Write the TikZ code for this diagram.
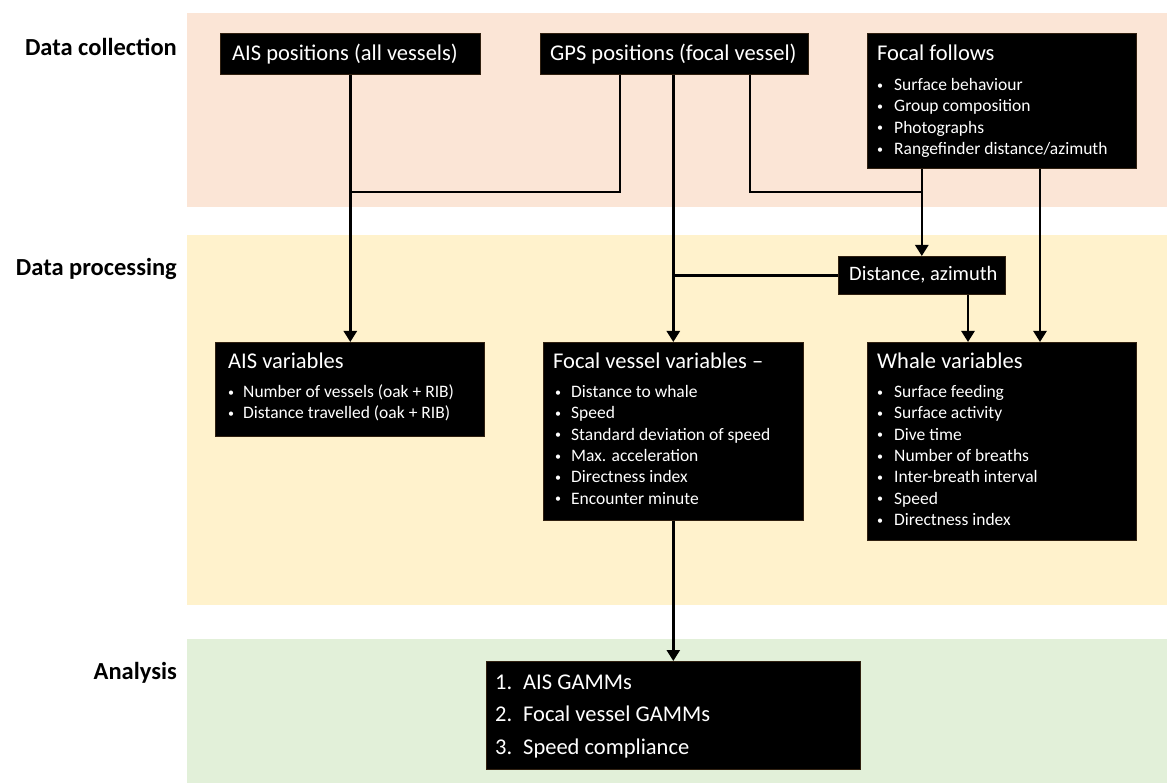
\documentclass[tikz,border=0pt]{standalone}
\usepackage{fontspec}
\setmainfont{Carlito}
\usetikzlibrary{arrows.meta,calc}
\definecolor{bandA}{HTML}{FBE5D6}
\definecolor{bandB}{HTML}{FFF2CC}
\definecolor{bandC}{HTML}{E2F0D9}
\newcommand\smbul[1]{\makebox[#1][l]{\raisebox{1.2pt}{\fontsize{12}{12}\selectfont•}}}
\begin{document}
\begin{tikzpicture}[x=1pt,y=-1pt,
 box/.style={fill=black,draw=black!75!brown,line width=0.6pt,inner sep=0pt,anchor=north west},
 head/.style={text=white,font=\fontsize{22.5}{27}\selectfont,anchor=base west,inner sep=0pt},
 item/.style={text=white,font=\fontsize{17.5}{21}\selectfont,anchor=base west,inner sep=0pt},
 lab/.style={font=\bfseries\fontsize{24.5}{29}\selectfont,anchor=base east,inner sep=0pt},
 ln/.style={line width=2.5pt,draw=black},
 arr/.style={ln,-{Triangle[width=13pt,length=11pt]}}]
\useasboundingbox (0,0) rectangle (1167,783);
% bands
\fill[bandA] (187,13) rectangle (1167,207);
\fill[bandB] (187,235) rectangle (1167,605);
\fill[bandC] (187,639) rectangle (1167,783);
% stage labels
\node[lab] (l1) at (177,56) {Data collection};
\node[lab] (l2) at (177,276) {Data processing};
\node[lab] (l3) at (177,679) {Analysis};
% boxes
\node[box,minimum width=260,minimum height=41] (aisp) at (220,33) {};
\node[box,minimum width=268,minimum height=41] (gps) at (540,33) {};
\node[box,minimum width=269,minimum height=135] (ff) at (867,33) {};
\node[box,minimum width=167,minimum height=38] (dist) at (838,256) {};
\node[box,minimum width=269,minimum height=94] (aisv) at (215,342) {};
\node[box,minimum width=260,minimum height=178] (fvv) at (543,342) {};
\node[box,minimum width=269,minimum height=198] (wv) at (867,342) {};
\node[box,minimum width=374,minimum height=108] (an) at (486,661) {};
% connectors
\coordinate (lvl) at (0,192);
\coordinate (g1) at ($(gps.south west)+(80,0)$);
\coordinate (g2) at (gps.south -| fvv.north);
\coordinate (g3) at ($(gps.south west)+(210,0)$);
\coordinate (j1) at (aisp.south |- lvl);
\coordinate (j2) at (dist.north |- lvl);
\coordinate (f2) at ($(ff.south west)+(173,0)$);
\coordinate (d2) at ($(dist.south west)+(130,0)$);
\draw[arr] (aisp.south) -- (aisp.south |- aisv.north);
\draw[ln] (g1) |- (j1);
\draw[arr] (g2) -- (fvv.north);
\draw[ln] (g3) |- (j2);
\draw[arr] (ff.south -| dist.north) -- (dist.north);
\draw[arr] (f2) -- (f2 |- wv.north);
\draw[ln] (dist.west) -- (dist.west -| fvv.north);
\draw[arr] (d2) -- (d2 |- wv.north);
\draw[arr] (fvv.south) -- (an.north);
% texts
\node[head] (t1) at (232,61) {AIS positions (all vessels)};
\node[head] (t2) at (550,61) {GPS positions (focal vessel)};
\node[head] (t3) at (877,61) {Focal follows};
\foreach \t [count=\i from 0] in {Surface behaviour,Group composition,Photographs,Rangefinder distance/azimuth}
  \node[item] (ffi\i) at (877,{90.5+21.3*\i}) {\smbul{17pt}\t};
\node[item,font=\fontsize{20.5}{24}\selectfont] (t4) at (849,281) {Distance, azimuth};
\node[head] (t5) at (228,369) {AIS variables};
\foreach \t [count=\i from 0] in {Number of vessels (oak + RIB),Distance travelled (oak + RIB)}
  \node[item] (avi\i) at (228,{397.5+21.3*\i}) {\smbul{15pt}\t};
\node[head] (t6) at (553,369) {Focal vessel variables –};
\foreach \t [count=\i from 0] in {Distance to whale,Speed,Standard deviation of speed,Max. acceleration,Directness index,Encounter minute}
  \node[item] (fvi\i) at (555,{397.5+21.3*\i}) {\smbul{16pt}\t};
\node[head] (t7) at (877,369) {Whale variables};
\foreach \t [count=\i from 0] in {Surface feeding,Surface activity,Dive time,Number of breaths,Inter-breath interval,Speed,Directness index}
  \node[item] (wvi\i) at (877,{397.5+21.3*\i}) {\smbul{17pt}\t};
\foreach \t [count=\i from 0, evaluate=\i as \n using int(\i+1)] in {AIS GAMMs,Focal vessel GAMMs,Speed compliance}
  \node[head] (ani\i) at (495,{689+32.5*\i}) {\makebox[28pt][l]{\n.}\t};
\end{tikzpicture}
\end{document}
